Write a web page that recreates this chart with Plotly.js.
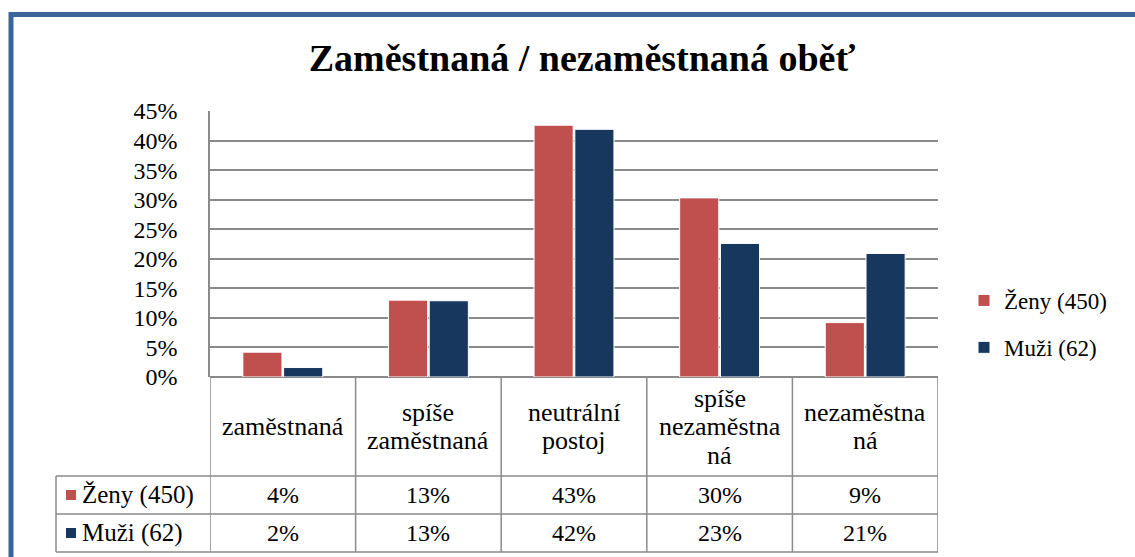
<!DOCTYPE html>
<html>
<head>
<meta charset="utf-8">
<script src="https://cdn.plot.ly/plotly-3.0.1.min.js"></script>
<style>
html,body{margin:0;padding:0;background:#fff;}
#chart{width:1135px;height:557px;}
</style>
</head>
<body>
<div id="chart"></div>
<script>
// ---- data ----
var categories = ['zaměstnaná', 'spíše zaměstnaná', 'neutrální postoj', 'spíše nezaměstnaná', 'nezaměstnaná'];
var categoryLabels = ['zaměstnaná', 'spíše<br>zaměstnaná', 'neutrální<br>postoj', 'spíše<br>nezaměstna<br>ná', 'nezaměstna<br>ná'];
var seriesNames = ['Ženy (450)', 'Muži (62)'];
var zeny = [4.2, 13.0, 42.6, 30.3, 9.2];
var muzi = [1.6, 12.9, 41.9, 22.6, 20.9];
var yTicks = [0, 5, 10, 15, 20, 25, 30, 35, 40, 45];

// ---- layout helpers (pixel -> paper) ----
var W = 1135, H = 557;
var mL = 210, mR = 197, mT = 111, mB = 180;
var pw = W - mL - mR, ph = H - mT - mB;
function px(x) { return (x - mL) / pw; }
function py(y) { return (H - mB - y) / ph; }

var font = 'Liberation Serif';
var colors = ['#C0504D', '#17375E'];
var gridCol = '#8A8A8A';

var traces = [
  {type: 'bar', name: seriesNames[0], x: categories, y: zeny,
   marker: {color: colors[0], line: {color: '#ffffff', width: 1}}, legendgroup: 'a'},
  {type: 'bar', name: seriesNames[1], x: categories, y: muzi,
   marker: {color: colors[1], line: {color: '#ffffff', width: 1}}, legendgroup: 'b'}
];

var shapes = [];
var annotations = [];
var nCat = categories.length;
var rowTop = 377, rowCat = 476, rowZ = 514, rowBot = 552, leftX = 56;

function line(x0, y0, x1, y1, xref, w, c) {
  shapes.push({type: 'line', xref: xref, yref: 'paper', x0: x0, x1: x1, y0: y0, y1: y1,
               line: {color: c || gridCol, width: w || 1.5}, layer: 'above'});
}
// table vertical lines at category boundaries
for (var i = 0; i <= nCat; i++) {
  line(i - 0.5, py(rowTop), i - 0.5, py(rowBot), 'x');
}
// left column
line(px(leftX), py(rowCat), px(leftX), py(rowBot), 'paper');
// horizontal lines
[rowCat, rowZ, rowBot].forEach(function (y) {
  line(px(leftX), py(y), 1, py(y), 'paper');
});

// category labels (one annotation per line for tighter line spacing)
var catCenter = (rowTop + rowCat) / 2, lineStep = 28.5;
categories.forEach(function (c, i) {
  var parts = categoryLabels[i].split('<br>');
  parts.forEach(function (p, k) {
    var yy = catCenter + (k - (parts.length - 1) / 2) * lineStep;
    annotations.push({x: c, xref: 'x', y: py(yy), yref: 'paper',
      text: p, showarrow: false, xanchor: 'center', yanchor: 'middle',
      font: {family: font, size: 26, color: '#000'}});
  });
});
// values rows
var rows = [zeny, muzi];
var rowCenters = [(rowCat + rowZ) / 2, (rowZ + rowBot) / 2];
rows.forEach(function (vals, r) {
  vals.forEach(function (v, i) {
    annotations.push({x: categories[i], xref: 'x', y: py(rowCenters[r]), yref: 'paper',
      text: Math.round(v) + '%', showarrow: false, xanchor: 'center', yanchor: 'middle',
      font: {family: font, size: 24, color: '#000'}});
  });
  // key squares
  shapes.push({type: 'rect', xref: 'paper', yref: 'paper',
    x0: px(66), x1: px(76), y0: py(rowCenters[r] - 5), y1: py(rowCenters[r] + 5),
    fillcolor: colors[r], line: {width: 0}, layer: 'above'});
  annotations.push({x: px(80), xref: 'paper', y: py(rowCenters[r]), yref: 'paper',
    text: seriesNames[r], showarrow: false, xanchor: 'left', yanchor: 'middle',
    font: {family: font, size: 25, color: '#000'}});
});

// outer blue frame
shapes.push({type: 'line', xref: 'paper', yref: 'paper', x0: px(10.5), x1: px(1200), y0: py(14.5), y1: py(14.5),
  line: {color: '#3B6598', width: 5}, layer: 'above'});
shapes.push({type: 'line', xref: 'paper', yref: 'paper', x0: px(11), x1: px(11), y0: py(12), y1: py(600),
  line: {color: '#3B6598', width: 5}, layer: 'above'});

var layout = {
  width: W, height: H,
  font: {family: font, size: 20, color: '#000'},
  margin: {l: mL, r: mR, t: mT, b: mB, pad: 0},
  paper_bgcolor: '#fff', plot_bgcolor: '#fff',
  title: {text: '<b>Zaměstnaná / nezaměstnaná oběť</b>', font: {family: font, size: 38, color: '#000'},
          x: 582 / W, xanchor: 'center', xref: 'container', y: 1 - 58 / H, yanchor: 'middle', yref: 'container'},
  barmode: 'group', bargap: 0.44, bargroupgap: 0.04,
  xaxis: {showticklabels: false, ticks: '', showgrid: false, zeroline: false, showline: false,
          range: [-0.5, nCat - 0.5], fixedrange: true},
  yaxis: {range: [0, 45], tickvals: yTicks, ticktext: yTicks.map(function (t) { return t + '%'; }),
          showgrid: true, gridcolor: gridCol, gridwidth: 1.5, zeroline: true, zerolinecolor: gridCol, zerolinewidth: 2,
          showline: true, linecolor: gridCol, linewidth: 1.5, ticks: '', ticklabelstandoff: 26,
          tickfont: {family: font, size: 24, color: '#000'}, fixedrange: true},
  showlegend: true,
  legend: {x: px(964), xanchor: 'left', y: py(324), yanchor: 'middle', traceorder: 'grouped', tracegroupgap: 14,
           font: {family: font, size: 23, color: '#000'}, bgcolor: 'rgba(0,0,0,0)'},
  shapes: shapes,
  annotations: annotations
};

Plotly.newPlot('chart', traces, layout, {displayModeBar: false});
</script>
</body>
</html>
